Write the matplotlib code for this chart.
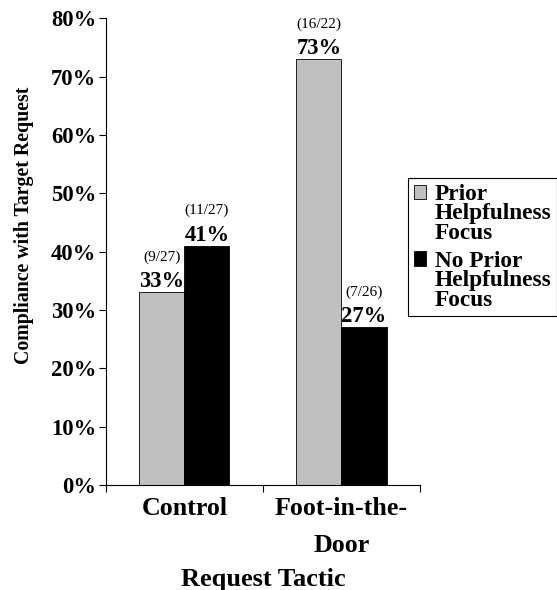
import matplotlib
matplotlib.use('Agg')
import matplotlib.pyplot as plt
from matplotlib.legend_handler import HandlerPatch
from matplotlib.patches import Rectangle
import numpy as np

plt.rcParams['font.family'] = ['Liberation Serif', 'DejaVu Serif']

# Dữ liệu
tactics = ['Control', 'Foot-in-the-\nDoor']
prior_focus = [33, 73]
no_prior_focus = [41, 27]
prior_counts = ['(9/27)', '(16/22)']
no_prior_counts = ['(11/27)', '(7/26)']
series_names = ['Prior\nHelpfulness\nFocus', 'No Prior\nHelpfulness\nFocus']
yticks = [0, 10, 20, 30, 40, 50, 60, 70, 80]

fig = plt.figure(figsize=(5.57, 5.9), dpi=100)
ax = fig.add_axes([0.190, 0.178, 0.564, 0.791])

x = np.arange(len(tactics))
w = 0.287
b1 = ax.bar(x - w / 2, prior_focus, w, color='#c0c0c0', edgecolor='black', linewidth=0.6)
b2 = ax.bar(x + w / 2, no_prior_focus, w, color='black', edgecolor='black', linewidth=0.6)

# Nhãn giá trị trên cột
for bars, vals, counts in [(b1, prior_focus, prior_counts), (b2, no_prior_focus, no_prior_counts)]:
    for bar, v, c in zip(bars, vals, counts):
        cx = bar.get_x() + bar.get_width() / 2
        ax.annotate(f'{v}%', (cx, v), xytext=(0, 0), textcoords='offset points',
                    ha='center', va='bottom', fontsize=16.3, fontweight='bold')
        ax.annotate(c, (cx, v), xytext=(0, 20.5), textcoords='offset points',
                    ha='center', va='bottom', fontsize=11)

ax.set_xlim(-0.5, 1.5)
ax.set_ylim(0, 80)
ax.set_yticks(yticks)
ax.set_yticklabels([f'{t}%' for t in yticks], fontsize=16.3, fontweight='bold')
ax.set_xticks([-0.5, 0.5, 1.5])
ax.set_xticklabels([])
ax.set_xticks(x, minor=True)
ax.set_xticklabels(tactics, minor=True, fontsize=18.7, fontweight='bold', linespacing=1.75)
ax.tick_params(axis='x', which='minor', length=0, pad=9)
ax.tick_params(axis='x', which='major', length=5, direction='out')
ax.tick_params(axis='y', length=5, direction='out', pad=2)
ax.spines['top'].set_visible(False)
ax.spines['right'].set_visible(False)

ax.set_xlabel('Request Tactic', fontsize=19, fontweight='bold', labelpad=8)
ax.set_ylabel('Compliance with Target Request', fontsize=14.3, fontweight='bold')
ax.yaxis.set_label_coords(-0.23, 0.557)


# ô vuông chú thích căn theo dòng đầu
def top_square(legend, orig_handle, xdescent, ydescent, width, height, fontsize):
    return Rectangle((-xdescent, -ydescent + 15.8), width, height)


h1, h2 = b1.patches[0], b2.patches[0]
hm = {h1: HandlerPatch(patch_func=top_square), h2: HandlerPatch(patch_func=top_square)}
leg = fig.legend([h1, h2], series_names, loc='upper left', bbox_to_anchor=(0.7325, 0.698),
                 prop={'weight': 'bold', 'size': 16.8}, frameon=True, fancybox=False,
                 edgecolor='black', framealpha=1, handlelength=0.5, handleheight=0.55,
                 handletextpad=0.4, borderpad=0.25, labelspacing=0.3, borderaxespad=0,
                 handler_map=hm)
leg.get_frame().set_linewidth(0.8)
for t in leg.get_texts():
    t.set_linespacing(0.9)

plt.savefig('out.png', dpi=100)
